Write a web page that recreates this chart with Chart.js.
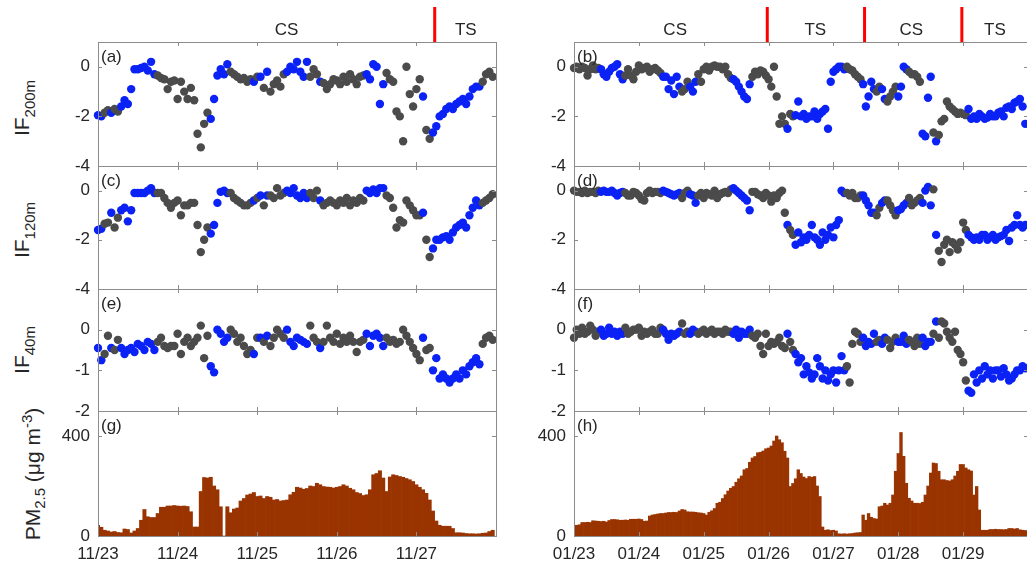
<!DOCTYPE html>
<html lang="en">
<head>
  <meta charset="UTF-8" />
  <title>IF and PM2.5 time series</title>
  <script src="https://cdn.jsdelivr.net/npm/chart.js"></script>
  <style>
    html, body { margin: 0; padding: 0; background: #fff; overflow: hidden; }
    #fig {
      position: relative;
      width: 1027px;
      height: 568px;
      overflow: hidden;
      font-family: "Liberation Sans", Arial, Helvetica, sans-serif;
    }
    #fig canvas { position: absolute; }
    .ytitle {
      position: absolute;
      white-space: nowrap;
      font-size: 21px;
      line-height: 1;
      color: #262626;
      transform: translate(-50%, -50%) rotate(-90deg);
    }
    .ytitle sub, .ytitle sup { font-size: 15px; }
  </style>
</head>
<body>
  <div id="fig">
    <div class="ytitle" style="left:24px; top:108px">IF<sub>200m</sub></div>
    <div class="ytitle" style="left:24px; top:230px">IF<sub>120m</sub></div>
    <div class="ytitle" style="left:24px; top:350px">IF<sub>40m</sub></div>
    <div class="ytitle" style="left:33px; top:474px">PM<sub>2.5</sub> (&mu;g m<sup>-3</sup>)</div>
  </div>

  <script>
    // ---- data (hourly, first value = 00:00 of first day) ----
    const leftDayLabels = ['11/23', '11/24', '11/25', '11/26', '11/27'];
    const rightDayLabels = ['01/23', '01/24', '01/25', '01/26', '01/27', '01/28', '01/29'];

    // hours flagged as the "blue" class, as [fromHour, toHour] runs
    const leftBlueRuns = [[0, 1], [4, 4], [7, 17], [34, 39], [47, 47], [49, 49], [51, 51],
                          [57, 63], [67, 67], [81, 86], [98, 98], [101, 115]];
    const rightBlueRuns = [[10, 18], [33, 39], [43, 45], [59, 65], [79, 79], [82, 100],
                           [107, 111], [114, 115], [120, 123], [129, 132], [134, 134], [146, 167]];

    const ifLeft200 = [
      -1.95, -2.0, -1.85, -1.75, -1.85, -1.7, -1.8, -1.6, -1.35, -1.5, -0.9, -0.1,
      -0.1, -0.05, 0.0, -0.15, 0.2, -0.3, -0.35, -0.45, -0.5, -0.9, -0.6, -0.55,
      -1.3, -0.6, -1.0, -1.3, -0.85, -1.35, -2.7, -3.25, -2.3, -1.85, -2.1, -1.3,
      -0.35, -0.1, -0.3, 0.1, -0.2, -0.3, -0.4, -0.5, -0.45, -0.6, -0.5, -0.6,
      -0.4, -0.4, -0.85, -0.2, -1.0, -0.7, -0.55, -0.8, -0.3, -0.2, 0.0, -0.1,
      0.2, -0.2, -0.4, 0.2, -0.4, -0.1, -0.3, -0.6, -0.65, -0.9, -0.7, -0.5,
      -0.55, -0.7, -0.4, -0.6, -0.3, -0.5, -0.7, -0.4, -0.35, -0.3, -0.5, 0.1,
      0.0, -1.5, -0.7, -0.25, -0.5, -0.6, -1.8, -2.0, -3.0, 0.0, -1.1, -1.6,
      -0.9, -0.5, -1.2, -2.55, -2.9, -2.65, -2.4, -2.0, -1.9, -1.7, -1.6, -1.7,
      -1.5, -1.4, -1.3, -1.5, -1.2, -0.9, -0.8, -0.8, -0.6, -0.3, -0.2, -0.4
    ];
    const ifLeft120 = [
      -1.6, -1.55, -1.35, -1.3, -0.9, -1.5, -1.1, -0.8, -0.7, -1.25, -0.8, -0.1,
      -0.1, -0.1, -0.1, 0.0, 0.1, -0.1, -0.1, -0.1, -0.3, -0.5, -0.7, -0.5,
      -0.4, -1.0, -0.6, -0.6, -0.5, -0.5, -1.4, -2.5, -2.0, -1.5, -1.75, -1.4,
      -0.5, -0.05, 0.0, -0.1, -0.1, -0.3, -0.4, -0.5, -0.6, -0.6, -0.5, -0.4,
      -0.3, -0.2, -0.6, -0.2, -0.2, -0.3, 0.1, -0.2, -0.1, 0.0, -0.1, 0.1,
      -0.2, -0.3, -0.1, -0.3, -0.1, -0.3, 0.0, -0.4, -0.6, -0.5, -0.4, -0.5,
      -0.6, -0.4, -0.5, -0.3, -0.6, -0.4, -0.5, -0.3, -0.4, 0.0, -0.1, 0.05,
      -0.1, 0.1, 0.1, -0.2, -0.3, -0.7, -1.5, -1.2, -1.3, -0.4, -0.6, -0.8,
      -1.0, -1.0, -0.9, -2.0, -2.7, -2.35, -2.0, -2.0, -1.9, -1.85, -2.0, -1.7,
      -1.5, -1.4, -1.3, -1.5, -1.0, -0.7, -0.4, -0.6, -0.5, -0.4, -0.3, -0.15
    ];
    const ifLeft40 = [
      -0.45, -0.75, -0.6, -0.15, -0.45, -0.5, -0.25, -0.45, -0.6, -0.5, -0.45, -0.55,
      -0.35, -0.4, -0.5, -0.3, -0.35, -0.5, -0.3, -0.2, -0.4, -0.45, -0.4, -0.4,
      -0.1, -0.6, -0.3, -0.2, -0.4, -0.3, -0.2, 0.1, -0.7, -0.15, -0.9, -1.05,
      0.0, -0.1, -0.3, -0.2, 0.0, -0.1, -0.3, -0.2, -0.4, -0.6, -0.5, -0.6,
      -0.2, -0.2, -0.3, -0.15, -0.4, -0.2, 0.0, -0.1, -0.2, 0.0, -0.3, -0.4,
      -0.2, -0.25, -0.3, -0.35, 0.1, -0.2, -0.3, -0.45, -0.3, 0.1, -0.2, -0.3,
      -0.1, -0.35, -0.2, -0.3, -0.15, -0.3, -0.55, -0.3, -0.25, -0.1, -0.4, -0.15,
      -0.1, -0.2, -0.4, -0.2, -0.3, -0.25, -0.35, -0.3, 0.0, -0.15, -0.3, -0.45,
      -0.6, -0.75, -0.2, -0.5, -0.45, -1.0, -0.7, -1.2, -1.1, -1.2, -1.3, -1.2,
      -1.1, -1.2, -1.0, -1.1, -0.9, -0.8, -0.7, -0.85, -0.35, -0.2, -0.15, -0.25
    ];
    const pmLeft = [
      43, 35, 23, 20, 16, 18, 14, 13, 28, 26, 12, 20,
      30, 63, 106, 77, 74, 74, 90, 115, 115, 120, 120, 122,
      120, 119, 120, 118, 97, 36, 36, 178, 234, 232, 235, 200,
      185, 117, 0, 117, 93, 108, 112, 140, 150, 164, 168, 174,
      158, 160, 150, 158, 155, 144, 146, 140, 142, 144, 165, 175,
      195, 192, 187, 190, 200, 198, 211, 205, 198, 196, 195, 192,
      195, 198, 205, 200, 191, 185, 174, 170, 162, 165, 185, 245,
      250, 261, 232, 178, 236, 245, 242, 238, 235, 230, 225, 218,
      205, 195, 185, 171, 144, 100, 60, 43, 39, 39, 39, 30,
      13, 13, 12, 10, 9, 9, 8, 9, 11, 12, 18, 23
    ];

    const ifRight200 = [
      -0.05, 0.0, -0.1, 0.0, -0.05, -0.35, -0.1, 0.05, -0.1, -0.05, -0.1, -0.3,
      -0.4, -0.2, -0.05, 0.0, 0.1, -0.3, -0.5, -0.35, -0.1, -0.35, -0.5, -0.2,
      0.05, -0.1, -0.05, 0.0, -0.2, -0.1, -0.05, -0.15, -0.25, -0.4, -0.4, -0.9,
      -0.55, -1.1, -0.4, -0.8, -1.0, -0.9, -0.6, -0.8, -1.0, -0.6, -0.3, -0.6,
      -0.1, 0.0, -0.15, 0.0, 0.05, 0.0, 0.0, -0.1, 0.0, -0.3, -0.45, -0.5,
      -0.6, -0.8, -1.0, -1.2, -1.3, -0.7, -0.4, -0.2, -0.3, -0.15, -0.2, -0.35,
      -0.5, -0.8, 0.0, -1.2, -2.3, -2.0, -2.3, -2.5, -1.9, -2.0, -1.95, -1.4,
      -2.0, -1.9, -2.1, -2.0, -2.0, -1.8, -2.1, -1.9, -1.8, -1.7, -2.5, -0.6,
      -0.2, -0.1, 0.0, 0.0, -0.1, 0.0, -0.1, -0.15, -0.3, -0.4, -0.5, -0.7,
      -1.6, -1.2, -0.6, -0.9, -1.0, -0.8, -0.9, -1.3, -1.4, -1.2, -1.0, -0.8,
      -1.2, -0.8, 0.0, -0.1, -0.2, -0.3, -0.3, -0.4, -0.6, -2.7, -2.8, -1.25,
      -0.4, -2.65, -3.0, -2.75, -2.2, -2.1, -1.4, -1.6, -1.7, -1.8, -1.9, -1.85,
      -1.9, -1.95, -1.7, -2.1, -2.0, -2.1, -1.9, -2.0, -2.1, -2.05, -1.9, -2.0,
      -2.0, -1.85, -1.8, -2.0, -1.65, -1.6, -1.7, -1.45, -1.4, -1.3, -1.6, -2.3
    ];
    const ifRight120 = [
      0.0, -0.05, -0.05, -0.1, 0.0, -0.1, -0.05, -0.05, -0.1, 0.0, -0.05, 0.0,
      -0.05, -0.05, 0.0, -0.1, -0.2, -0.1, -0.05, -0.1, -0.2, -0.2, -0.05, -0.1,
      -0.2, -0.35, -0.4, -0.1, 0.0, -0.1, -0.05, -0.05, -0.1, 0.0, -0.05, -0.1,
      -0.15, -0.2, -0.15, -0.1, -0.3, -0.1, 0.0, -0.15, -0.2, -0.5, -0.2, -0.1,
      -0.3, -0.1, -0.15, -0.2, 0.0, -0.3, -0.15, -0.1, -0.05, -0.1, 0.05, 0.1,
      0.0, -0.1, -0.2, -0.3, -0.4, -0.8, -0.05, -0.05, -0.15, -0.2, -0.3, -0.1,
      -0.2, -0.45, -0.2, -0.3, -0.1, 0.0, -0.9, -1.4, -1.6, -1.8, -2.2, -1.7,
      -2.1, -1.9, -2.0, -1.8, -1.4, -1.9, -2.0, -2.2, -1.7, -2.0, -1.8, -1.5,
      -1.9, -1.4, -1.2, 0.0, -0.1, -0.1, -0.2, -0.1, -0.3, -0.3, -0.2, -0.2,
      -0.4, -0.6, -0.9, -0.9, -1.0, -0.7, -0.5, -0.4, -0.4, -0.6, -0.8, -1.0,
      -0.8, -0.75, -0.6, -0.5, -0.3, -0.6, -0.5, -0.4, -0.3, -0.5, 0.0, 0.15,
      -0.6, 0.05, -1.8, -2.45, -2.9, -2.2, -2.0, -2.5, -2.1, -2.2, -2.4, -2.1,
      -1.3, -1.6, -1.8, -1.9, -2.0, -1.9, -2.0, -1.8, -1.8, -2.0, -1.9, -1.8,
      -2.0, -1.9, -1.85, -1.8, -1.6, -2.05, -1.5, -1.4, -1.0, -1.4, -1.5, -1.4
    ];
    const ifRight40 = [
      -0.2, 0.0, -0.1, 0.05, -0.1, -0.05, 0.1, 0.0, -0.15, -0.05, 0.0, -0.15,
      -0.1, 0.05, -0.1, -0.05, -0.15, -0.05, -0.1, 0.05, -0.1, -0.05, 0.0, 0.0,
      0.05, -0.15, -0.05, -0.1, -0.05, 0.0, -0.1, -0.1, 0.05, 0.0, -0.1, -0.25,
      -0.1, -0.15, -0.1, -0.05, 0.15, -0.1, -0.05, -0.1, 0.0, -0.05, -0.1, -0.05,
      0.0, -0.1, -0.05, 0.0, -0.1, -0.05, -0.05, -0.1, 0.0, -0.05, -0.05, -0.1,
      0.0, -0.2, -0.05, -0.1, -0.1, 0.0, -0.15, -0.2, -0.1, -0.4, -0.6, -0.1,
      -0.4, -0.3, -0.35, -0.3, -0.2, -0.4, -0.45, -0.1, -0.3, -0.5, -0.6, -0.8,
      -0.7, -1.1, -0.9, -1.05, -1.2, -1.1, -0.7, -0.9, -1.2, -1.0, -1.25, -1.1,
      -1.0, -1.3, -1.0, -0.65, -1.0, -0.9, -1.3, -0.35, -0.05, -0.1, -0.3, -0.2,
      -0.4, -0.3, -0.35, -0.1, -0.3, -0.25, -0.35, -0.2, -0.25, -0.45, -0.3, -0.2,
      -0.3, -0.3, -0.15, -0.35, -0.25, -0.3, -0.4, -0.2, -0.35, -0.2, -0.4, -0.3,
      -0.3, -0.1, 0.2, -0.2, 0.2, 0.15, -0.05, -0.2, -0.3, -0.05, -0.5, -0.6,
      -0.8, -1.25, -1.5, -1.55, -1.1, -1.3, -1.0, -1.2, -0.9, -1.1, -1.0, -1.2,
      -1.0, -1.0, -1.15, -0.95, -1.1, -1.25, -1.2, -1.1, -1.0, -1.0, -0.9, -0.95
    ];
    const pmRight = [
      43, 43, 45, 54, 54, 55, 54, 61, 60, 59, 58, 59,
      56, 62, 66, 66, 65, 63, 63, 64, 63, 67, 67, 67,
      68, 66, 59, 60, 80, 84, 86, 88, 90, 90, 92, 94,
      94, 95, 94, 100, 106, 104, 97, 96, 96, 95, 93, 92,
      90, 84, 95, 101, 110, 131, 135, 150, 165, 180, 191, 198,
      215, 229, 240, 265, 270, 295, 312, 318, 333, 335, 340, 349,
      352, 360, 380, 400, 385, 373, 339, 312, 198, 210, 229, 265,
      250, 236, 230, 238, 235, 238, 200, 158, 36, 23, 25, 22,
      23, 20, 9, 8, 9, 8, 9, 10, 12, 13, 14, 84,
      63, 90, 75, 70, 68, 117, 120, 131, 124, 131, 164, 259,
      330, 414, 319, 211, 151, 140, 131, 131, 130, 135, 164, 200,
      252, 292, 290, 259, 225, 225, 222, 220, 225, 240, 259, 286,
      286, 272, 265, 260, 164, 198, 104, 23, 23, 23, 26, 26,
      27, 26, 26, 25, 26, 30, 30, 28, 30, 25, 23, 22
    ];

    const ifTicks = [-4, -2, 0];
    const if40Ticks = [-2, -1, 0];
    const pmTicks = [0, 400];

    // period boundaries (days from first date) and their labels
    const leftPhaseBreaks = [4.23];
    const leftPhaseNames = ['CS', 'TS'];
    const leftPhaseAt = [2.37, 4.62];
    const rightPhaseBreaks = [2.98, 4.48, 5.98];
    const rightPhaseNames = ['CS', 'TS', 'CS', 'TS'];
    const rightPhaseAt = [1.56, 3.72, 5.2, 6.49];

    // ---- look ----
    const BLUE = '#0a22f5', GRAY = '#4b4b4b', BROWN = '#993300';
    const AXIS = '#8c8c8c', INK = '#262626';
    const FONT = '"Liberation Sans", Arial, Helvetica, sans-serif';

    const COLS = [{ x0: 98, x1: 496, days: 5 }, { x0: 574, x1: 1028, days: 7 }];
    const ROWS = [[42, 166], [166, 289], [289, 411], [411, 536]];
    const PAD_L = 70, PAD_R = 12;

    const fig = document.getElementById('fig');

    function classesFrom(n, runs) {
      const out = new Array(n).fill('g');
      runs.forEach(([a, b]) => { for (let i = a; i <= b; i++) out[i] = 'b'; });
      return out;
    }

    // box, inward ticks, panel tag and period markers
    const framePlugin = {
      id: 'frame',
      afterDatasetsDraw(chart, args, opts) {
        const { ctx, chartArea: a } = chart;
        const x = chart.scales.x, y = chart.scales.y;
        ctx.save();
        ctx.strokeStyle = AXIS;
        ctx.lineWidth = 1;
        ctx.strokeRect(a.left + 0.5, a.top + 0.5, a.right - a.left, a.bottom - a.top);
        ctx.beginPath();
        x.ticks.forEach(t => {
          const px = Math.round(x.getPixelForValue(t.value)) + 0.5;
          ctx.moveTo(px, a.top); ctx.lineTo(px, a.top + 4);
          ctx.moveTo(px, a.bottom); ctx.lineTo(px, a.bottom - 4);
        });
        y.ticks.forEach(t => {
          const py = Math.round(y.getPixelForValue(t.value)) + 0.5;
          ctx.moveTo(a.left, py); ctx.lineTo(a.left + 4, py);
          ctx.moveTo(a.right, py); ctx.lineTo(a.right - 4, py);
        });
        ctx.stroke();

        ctx.fillStyle = INK;
        ctx.font = '17px ' + FONT;
        ctx.textAlign = 'left';
        ctx.textBaseline = 'middle';
        ctx.fillText(opts.tag, a.left + 3, a.top + 15);

        if (opts.phases) {
          const ph = opts.phases;
          ctx.strokeStyle = '#ff0000';
          ctx.lineWidth = 3;
          ph.breaks.forEach(d => {
            const px = x.getPixelForValue(d);
            ctx.beginPath();
            ctx.moveTo(px, 7);
            ctx.lineTo(px, a.top);
            ctx.stroke();
          });
          ctx.textAlign = 'center';
          ph.names.forEach((n, i) => ctx.fillText(n, x.getPixelForValue(ph.at[i]), 30));
        }
        ctx.restore();
      }
    };

    function makePanel(p) {
      const c = COLS[p.col], r = ROWS[p.row];
      const padT = p.row === 0 ? r[0] : 14;
      const padB = p.row === 3 ? 32 : 14;
      const w = (c.x1 - c.x0) + PAD_L + PAD_R;
      const h = (r[1] - r[0]) + padT + padB;
      const cv = document.createElement('canvas');
      cv.width = w;
      cv.height = h;
      cv.style.left = (c.x0 - PAD_L) + 'px';
      cv.style.top = (r[0] - padT) + 'px';
      fig.appendChild(cv);

      const isBar = p.kind === 'bar';
      const pts = p.values.map((v, i) => ({ x: i / 24, y: v }));
      const dataset = isBar
        ? { type: 'bar', data: pts, backgroundColor: BROWN, borderWidth: 0,
            barPercentage: 1, categoryPercentage: 1 }
        : { type: 'scatter', data: pts, pointRadius: 4.2, pointHoverRadius: 4.2,
            pointBorderWidth: 0, clip: false,
            pointBackgroundColor: p.classes.map(k => k === 'b' ? BLUE : GRAY) };

      const bottom = p.row === 3;
      const dayTicks = p.dayLabels.map((_, i) => i);

      return new Chart(cv, {
        type: isBar ? 'bar' : 'scatter',
        data: { datasets: [dataset] },
        plugins: [framePlugin],
        options: {
          responsive: false,
          animation: false,
          events: [],
          layout: { padding: { left: 0, right: PAD_R, top: padT, bottom: bottom ? 0 : padB } },
          plugins: {
            legend: { display: false },
            tooltip: { enabled: false },
            frame: { tag: p.tag, phases: p.phases || null }
          },
          scales: {
            x: {
              type: 'linear',
              min: 0,
              max: c.days,
              offset: false,
              afterBuildTicks: s => { s.ticks = dayTicks.map(v => ({ value: v })); },
              afterFit: s => { s.height = bottom ? padB : 0; s.paddingLeft = 0; s.paddingRight = 0; },
              grid: { display: false, drawTicks: false },
              border: { display: false },
              ticks: {
                display: bottom,
                autoSkip: false,
                maxRotation: 0,
                padding: 8,
                color: INK,
                font: { family: FONT, size: 17 },
                callback: v => p.dayLabels[Math.round(v)]
              }
            },
            y: {
              type: 'linear',
              min: p.yMin,
              max: p.yMax,
              afterBuildTicks: s => { s.ticks = p.yTicks.map(v => ({ value: v })); },
              afterFit: s => { s.width = PAD_L; s.paddingTop = 0; s.paddingBottom = 0; },
              grid: { display: false, drawTicks: false },
              border: { display: false },
              ticks: {
                padding: 8,
                color: INK,
                font: { family: FONT, size: 17 },
                callback: v => String(v)
              }
            }
          }
        }
      });
    }

    const leftCls = classesFrom(ifLeft200.length, leftBlueRuns);
    const rightCls = classesFrom(ifRight200.length, rightBlueRuns);

    const leftPhases = { breaks: leftPhaseBreaks, names: leftPhaseNames, at: leftPhaseAt };
    const rightPhases = { breaks: rightPhaseBreaks, names: rightPhaseNames, at: rightPhaseAt };

    makePanel({ col: 0, row: 0, tag: '(a)', values: ifLeft200, classes: leftCls, yMin: -4, yMax: 1, yTicks: ifTicks, dayLabels: leftDayLabels, phases: leftPhases });
    makePanel({ col: 0, row: 1, tag: '(c)', values: ifLeft120, classes: leftCls, yMin: -4, yMax: 1, yTicks: ifTicks, dayLabels: leftDayLabels });
    makePanel({ col: 0, row: 2, tag: '(e)', values: ifLeft40, classes: leftCls, yMin: -2, yMax: 1, yTicks: if40Ticks, dayLabels: leftDayLabels });
    makePanel({ col: 0, row: 3, tag: '(g)', kind: 'bar', values: pmLeft, yMin: 0, yMax: 500, yTicks: pmTicks, dayLabels: leftDayLabels });

    makePanel({ col: 1, row: 0, tag: '(b)', values: ifRight200, classes: rightCls, yMin: -4, yMax: 1, yTicks: ifTicks, dayLabels: rightDayLabels, phases: rightPhases });
    makePanel({ col: 1, row: 1, tag: '(d)', values: ifRight120, classes: rightCls, yMin: -4, yMax: 1, yTicks: ifTicks, dayLabels: rightDayLabels });
    makePanel({ col: 1, row: 2, tag: '(f)', values: ifRight40, classes: rightCls, yMin: -2, yMax: 1, yTicks: if40Ticks, dayLabels: rightDayLabels });
    makePanel({ col: 1, row: 3, tag: '(h)', kind: 'bar', values: pmRight, yMin: 0, yMax: 500, yTicks: pmTicks, dayLabels: rightDayLabels });
  </script>
</body>
</html>
